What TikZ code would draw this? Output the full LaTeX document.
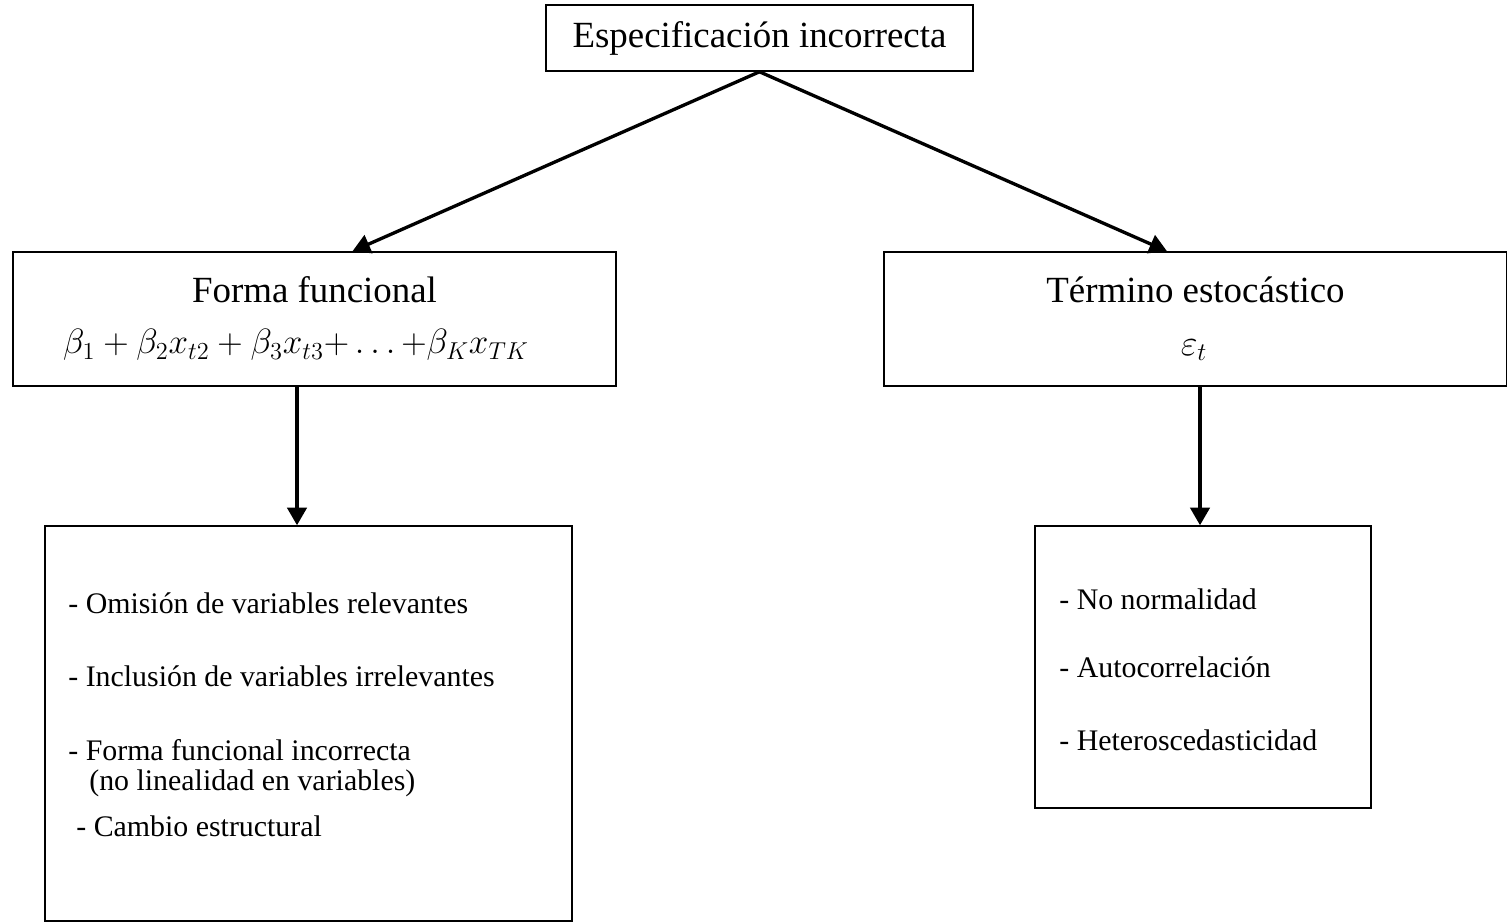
\documentclass[tikz,border=0pt]{standalone}
\usepackage{fontspec}
\setmainfont{Liberation Serif}
\usepackage{amsmath}
\usepackage{graphicx}
\usetikzlibrary{arrows.meta,calc}

\tikzset{
  caja/.style={draw, line width=0.9pt, inner sep=0pt},
  flecha/.style={line width=1.9pt, -{Triangle[length=10pt,width=11pt]}},
  titulo/.style={font=\fontsize{21}{36}\selectfont, align=center},
  item/.style={anchor=west, inner sep=0pt, font=\fontsize{17}{20}\selectfont}
}

\begin{document}
\begin{tikzpicture}[x=0.02cm, y=-0.02cm]
\useasboundingbox (0,0) rectangle (1507,922);
% cajas
\node[caja, minimum width=8.54cm, minimum height=1.32cm, titulo] (esp) at (759.5,38) {Especificaci\'on incorrecta};
\node[caja, minimum width=12.06cm, minimum height=2.68cm] (ff) at (314.5,319) {};
\node[caja, minimum width=12.46cm, minimum height=2.68cm] (te) at (1195.5,319) {};
\node[caja, minimum width=10.54cm, minimum height=7.9cm] (lb) at (308.5,723.5) {};
\node[caja, minimum width=6.72cm, minimum height=5.64cm] (rb) at (1203,667) {};
% textos
\node[titulo] (fft) at (314.5,290) {Forma funcional};
\node[font=\fontsize{21}{24}\selectfont] (ffm) at (296,345) {\scalebox{0.965}{$\beta_1+\beta_2x_{t2}+\beta_3x_{t3}{+}\ldots{+}\beta_Kx_{TK}$}};
\node[titulo] (tet) at (1195.5,290) {T\'ermino estoc\'astico};
\node[font=\fontsize{21}{24}\selectfont] (tem) at (1194,350) {$\varepsilon_t$};
\node[item] (l1) at (68,603) {- Omisi\'on de variables relevantes};
\node[item] (l2) at (68,676) {- Inclusi\'on de variables irrelevantes};
\node[item] (l3) at (68,750) {- Forma funcional incorrecta};
\node[item] (l4) at (89,783) {(no linealidad en variables)};
\node[item] (l5) at (76,826) {- Cambio estructural};
\node[item] (r1) at (1059,599) {- No normalidad};
\node[item] (r2) at (1059,667) {- Autocorrelaci\'on};
\node[item] (r3) at (1059,740) {- Heteroscedasticidad};
% flechas
\draw[flecha] (esp.south) -- ([xshift=0.76cm]ff.north);
\draw[flecha] (esp.south) -- ([xshift=-0.57cm]te.north);
\draw[flecha] ([xshift=-0.35cm]ff.south) -- ([xshift=-0.35cm]ff.south |- lb.north);
\draw[flecha] ([xshift=0.09cm]te.south) -- ([xshift=0.09cm]te.south |- rb.north);
\end{tikzpicture}
\end{document}
